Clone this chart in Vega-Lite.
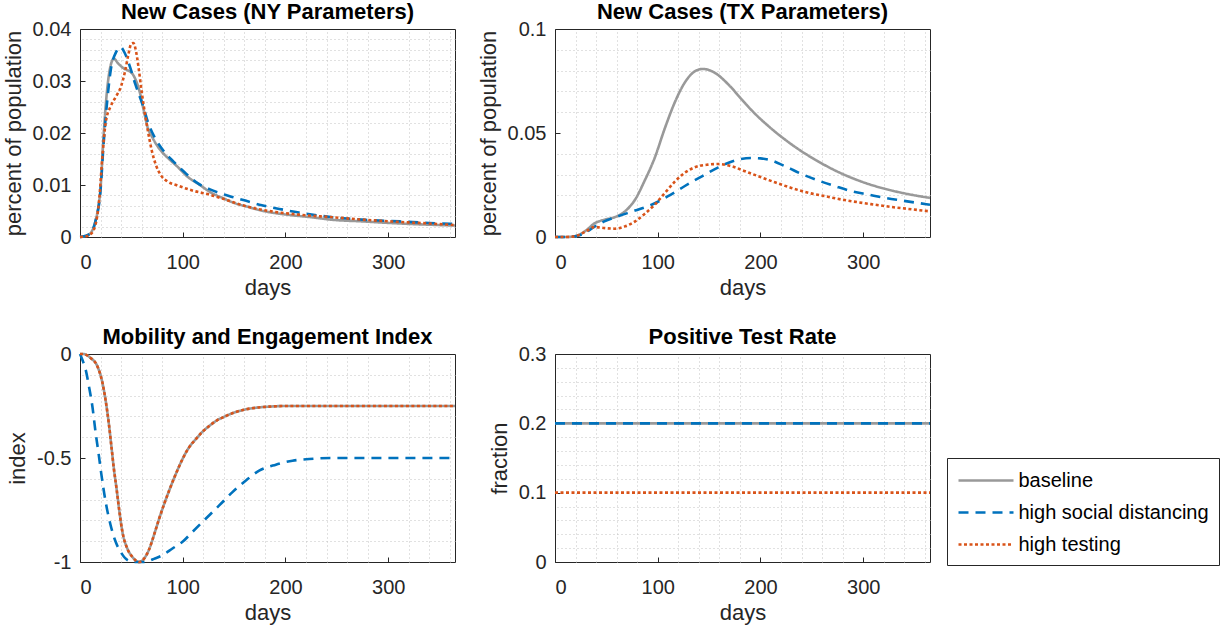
{
  "$schema": "https://vega.github.io/schema/vega-lite/v6.json",
  "padding": {"left": 1, "top": 0, "right": 2, "bottom": 2},
  "background": "#ffffff",
  "config": {
    "font": "Liberation Sans",
    "view": {"stroke": "#262626", "strokeWidth": 1},
    "axis": {
      "labelFont": "Liberation Sans", "labelFontSize": 20, "labelColor": "#262626",
      "titleFont": "Liberation Sans", "titleFontSize": 22, "titleFontWeight": "normal", "titleColor": "#262626",
      "gridColor": "#dedede", "gridOpacity": 1, "gridWidth": 1,
      "domain": false, "ticks": true, "tickColor": "#262626", "tickSize": -5, "tickWidth": 1
    },
    "axisX": {"labelPadding": 20, "titlePadding": 5},
    "axisY": {"labelPadding": 14, "titlePadding": 7},
    "title": {"font": "Liberation Sans", "fontSize": 22, "fontWeight": "bold", "color": "#000000", "baseline": "alphabetic", "offset": -5, "anchor": "middle"}
  },
  "datasets": {
    "ny": [
      {"s":"baseline","d":0,"v":0},{"s":"baseline","d":5,"v":0.0002},{"s":"baseline","d":10,"v":0.0007},{"s":"baseline","d":15,"v":0.003},{"s":"baseline","d":18,"v":0.006},{"s":"baseline","d":20,"v":0.0094},{"s":"baseline","d":23,"v":0.0196},{"s":"baseline","d":26,"v":0.0275},{"s":"baseline","d":29,"v":0.0322},{"s":"baseline","d":33,"v":0.0343},{"s":"baseline","d":37,"v":0.0334},{"s":"baseline","d":42,"v":0.0325},{"s":"baseline","d":47,"v":0.032},{"s":"baseline","d":51,"v":0.0314},{"s":"baseline","d":54,"v":0.0303},{"s":"baseline","d":58,"v":0.028},{"s":"baseline","d":62,"v":0.0244},{"s":"baseline","d":66,"v":0.021},{"s":"baseline","d":70,"v":0.0193},{"s":"baseline","d":75,"v":0.0176},{"s":"baseline","d":80,"v":0.0163},{"s":"baseline","d":85,"v":0.0153},{"s":"baseline","d":95,"v":0.0135},{"s":"baseline","d":104,"v":0.0117},{"s":"baseline","d":116,"v":0.0101},{"s":"baseline","d":127,"v":0.0086},{"s":"baseline","d":140,"v":0.0074},{"s":"baseline","d":148,"v":0.0067},{"s":"baseline","d":165,"v":0.0057},{"s":"baseline","d":181,"v":0.0049},{"s":"baseline","d":201,"v":0.0043},{"s":"baseline","d":225,"v":0.0038},{"s":"baseline","d":246,"v":0.0033},{"s":"baseline","d":275,"v":0.003},{"s":"baseline","d":301,"v":0.0027},{"s":"baseline","d":335,"v":0.0024},{"s":"baseline","d":365,"v":0.0022},
      {"s":"high social distancing","d":0,"v":0},{"s":"high social distancing","d":5,"v":0.0002},{"s":"high social distancing","d":10,"v":0.0007},{"s":"high social distancing","d":15,"v":0.003},{"s":"high social distancing","d":20,"v":0.009},{"s":"high social distancing","d":23,"v":0.018},{"s":"high social distancing","d":26.5,"v":0.0262},{"s":"high social distancing","d":30,"v":0.0322},{"s":"high social distancing","d":35,"v":0.0355},{"s":"high social distancing","d":39.5,"v":0.0365},{"s":"high social distancing","d":44,"v":0.0352},{"s":"high social distancing","d":49,"v":0.0325},{"s":"high social distancing","d":54,"v":0.0293},{"s":"high social distancing","d":61,"v":0.0254},{"s":"high social distancing","d":67,"v":0.0216},{"s":"high social distancing","d":74,"v":0.0187},{"s":"high social distancing","d":82,"v":0.0164},{"s":"high social distancing","d":91,"v":0.0145},{"s":"high social distancing","d":101,"v":0.0126},{"s":"high social distancing","d":114,"v":0.0104},{"s":"high social distancing","d":126,"v":0.0092},{"s":"high social distancing","d":145,"v":0.0079},{"s":"high social distancing","d":161,"v":0.007},{"s":"high social distancing","d":177,"v":0.0061},{"s":"high social distancing","d":194,"v":0.0054},{"s":"high social distancing","d":213,"v":0.0047},{"s":"high social distancing","d":246,"v":0.0038},{"s":"high social distancing","d":278,"v":0.0033},{"s":"high social distancing","d":311,"v":0.003},{"s":"high social distancing","d":340,"v":0.0027},{"s":"high social distancing","d":365,"v":0.0025},
      {"s":"high testing","d":0,"v":0},{"s":"high testing","d":5,"v":0.0001},{"s":"high testing","d":10,"v":0.0005},{"s":"high testing","d":15,"v":0.0023},{"s":"high testing","d":18.5,"v":0.0068},{"s":"high testing","d":22,"v":0.016},{"s":"high testing","d":25,"v":0.022},{"s":"high testing","d":30,"v":0.0252},{"s":"high testing","d":35,"v":0.027},{"s":"high testing","d":40,"v":0.029},{"s":"high testing","d":44,"v":0.032},{"s":"high testing","d":47,"v":0.035},{"s":"high testing","d":50,"v":0.0372},{"s":"high testing","d":52,"v":0.0373},{"s":"high testing","d":54,"v":0.0362},{"s":"high testing","d":57,"v":0.0326},{"s":"high testing","d":60,"v":0.028},{"s":"high testing","d":63,"v":0.024},{"s":"high testing","d":66,"v":0.0205},{"s":"high testing","d":70,"v":0.0165},{"s":"high testing","d":74,"v":0.0138},{"s":"high testing","d":79,"v":0.0118},{"s":"high testing","d":85,"v":0.0107},{"s":"high testing","d":95,"v":0.0099},{"s":"high testing","d":110,"v":0.0089},{"s":"high testing","d":127,"v":0.0081},{"s":"high testing","d":143,"v":0.0071},{"s":"high testing","d":160,"v":0.006},{"s":"high testing","d":181,"v":0.0051},{"s":"high testing","d":213,"v":0.0043},{"s":"high testing","d":246,"v":0.0038},{"s":"high testing","d":278,"v":0.0033},{"s":"high testing","d":311,"v":0.0029},{"s":"high testing","d":340,"v":0.0026},{"s":"high testing","d":365,"v":0.0023}
    ],
    "tx": [
      {"s":"baseline","d":0,"v":0},{"s":"baseline","d":10,"v":0},{"s":"baseline","d":19,"v":0.0003},{"s":"baseline","d":29,"v":0.0027},{"s":"baseline","d":39,"v":0.0067},{"s":"baseline","d":48,"v":0.0083},{"s":"baseline","d":58,"v":0.0095},{"s":"baseline","d":68,"v":0.0123},{"s":"baseline","d":78,"v":0.018},{"s":"baseline","d":87,"v":0.0268},{"s":"baseline","d":97,"v":0.038},{"s":"baseline","d":107,"v":0.0524},{"s":"baseline","d":117,"v":0.0652},{"s":"baseline","d":126,"v":0.074},{"s":"baseline","d":136,"v":0.0796},{"s":"baseline","d":144,"v":0.0808},{"s":"baseline","d":156,"v":0.0788},{"s":"baseline","d":169,"v":0.0732},{"s":"baseline","d":182,"v":0.066},{"s":"baseline","d":195,"v":0.0591},{"s":"baseline","d":208,"v":0.0532},{"s":"baseline","d":224,"v":0.0468},{"s":"baseline","d":240,"v":0.0412},{"s":"baseline","d":256,"v":0.0364},{"s":"baseline","d":273,"v":0.0319},{"s":"baseline","d":289,"v":0.0284},{"s":"baseline","d":305,"v":0.0255},{"s":"baseline","d":321,"v":0.0232},{"s":"baseline","d":338,"v":0.0212},{"s":"baseline","d":365,"v":0.0188},
      {"s":"high social distancing","d":0,"v":0},{"s":"high social distancing","d":10,"v":0},{"s":"high social distancing","d":19,"v":0.0003},{"s":"high social distancing","d":29,"v":0.0019},{"s":"high social distancing","d":39,"v":0.0051},{"s":"high social distancing","d":48,"v":0.0075},{"s":"high social distancing","d":61,"v":0.0099},{"s":"high social distancing","d":78,"v":0.0127},{"s":"high social distancing","d":94,"v":0.0155},{"s":"high social distancing","d":110,"v":0.0196},{"s":"high social distancing","d":126,"v":0.0244},{"s":"high social distancing","d":143,"v":0.0292},{"s":"high social distancing","d":159,"v":0.0335},{"s":"high social distancing","d":175,"v":0.0368},{"s":"high social distancing","d":191,"v":0.038},{"s":"high social distancing","d":200,"v":0.0378},{"s":"high social distancing","d":208,"v":0.0372},{"s":"high social distancing","d":224,"v":0.034},{"s":"high social distancing","d":240,"v":0.0303},{"s":"high social distancing","d":256,"v":0.0272},{"s":"high social distancing","d":273,"v":0.0244},{"s":"high social distancing","d":289,"v":0.022},{"s":"high social distancing","d":305,"v":0.0204},{"s":"high social distancing","d":321,"v":0.0188},{"s":"high social distancing","d":338,"v":0.0175},{"s":"high social distancing","d":365,"v":0.0155},
      {"s":"high testing","d":0,"v":0},{"s":"high testing","d":10,"v":0},{"s":"high testing","d":19,"v":0.0003},{"s":"high testing","d":29,"v":0.0024},{"s":"high testing","d":39,"v":0.0048},{"s":"high testing","d":48,"v":0.0043},{"s":"high testing","d":58,"v":0.004},{"s":"high testing","d":68,"v":0.0051},{"s":"high testing","d":78,"v":0.0075},{"s":"high testing","d":87,"v":0.011},{"s":"high testing","d":97,"v":0.0155},{"s":"high testing","d":107,"v":0.0212},{"s":"high testing","d":117,"v":0.0268},{"s":"high testing","d":126,"v":0.0308},{"s":"high testing","d":136,"v":0.0335},{"s":"high testing","d":149,"v":0.0348},{"s":"high testing","d":159,"v":0.0351},{"s":"high testing","d":172,"v":0.034},{"s":"high testing","d":185,"v":0.0316},{"s":"high testing","d":198,"v":0.0292},{"s":"high testing","d":214,"v":0.0263},{"s":"high testing","d":230,"v":0.0236},{"s":"high testing","d":247,"v":0.0212},{"s":"high testing","d":263,"v":0.0196},{"s":"high testing","d":279,"v":0.018},{"s":"high testing","d":295,"v":0.0167},{"s":"high testing","d":312,"v":0.0155},{"s":"high testing","d":328,"v":0.0144},{"s":"high testing","d":344,"v":0.0135},{"s":"high testing","d":365,"v":0.0123}
    ],
    "mob": [
      {"s":"baseline","d":0,"v":0},{"s":"baseline","d":3,"v":0},{"s":"baseline","d":10,"v":-0.018},{"s":"baseline","d":17,"v":-0.06},{"s":"baseline","d":21.7,"v":-0.135},{"s":"baseline","d":25,"v":-0.225},{"s":"baseline","d":28.2,"v":-0.34},{"s":"baseline","d":30.8,"v":-0.455},{"s":"baseline","d":33,"v":-0.553},{"s":"baseline","d":35.6,"v":-0.648},{"s":"baseline","d":37.9,"v":-0.74},{"s":"baseline","d":41.1,"v":-0.85},{"s":"baseline","d":46,"v":-0.935},{"s":"baseline","d":50.9,"v":-0.975},{"s":"baseline","d":57.5,"v":-1.0},{"s":"baseline","d":62.2,"v":-0.985},{"s":"baseline","d":67.2,"v":-0.94},{"s":"baseline","d":73,"v":-0.855},{"s":"baseline","d":77.1,"v":-0.791},{"s":"baseline","d":82,"v":-0.72},{"s":"baseline","d":86.9,"v":-0.655},{"s":"baseline","d":93,"v":-0.58},{"s":"baseline","d":99.8,"v":-0.505},{"s":"baseline","d":106,"v":-0.45},{"s":"baseline","d":112.8,"v":-0.409},{"s":"baseline","d":119,"v":-0.375},{"s":"baseline","d":125.8,"v":-0.346},{"s":"baseline","d":133,"v":-0.32},{"s":"baseline","d":142,"v":-0.298},{"s":"baseline","d":151,"v":-0.28},{"s":"baseline","d":161.5,"v":-0.266},{"s":"baseline","d":172,"v":-0.258},{"s":"baseline","d":184,"v":-0.253},{"s":"baseline","d":200,"v":-0.25},{"s":"baseline","d":250,"v":-0.25},{"s":"baseline","d":300,"v":-0.25},{"s":"baseline","d":365,"v":-0.25},
      {"s":"high social distancing","d":0,"v":0},{"s":"high social distancing","d":2.5,"v":-0.03},{"s":"high social distancing","d":5.5,"v":-0.075},{"s":"high social distancing","d":8.7,"v":-0.155},{"s":"high social distancing","d":12,"v":-0.25},{"s":"high social distancing","d":15.2,"v":-0.378},{"s":"high social distancing","d":18.4,"v":-0.49},{"s":"high social distancing","d":20.7,"v":-0.575},{"s":"high social distancing","d":25,"v":-0.712},{"s":"high social distancing","d":29.8,"v":-0.823},{"s":"high social distancing","d":34.7,"v":-0.903},{"s":"high social distancing","d":39.5,"v":-0.951},{"s":"high social distancing","d":46,"v":-0.99},{"s":"high social distancing","d":52.5,"v":-1.0},{"s":"high social distancing","d":62,"v":-1.0},{"s":"high social distancing","d":67,"v":-0.995},{"s":"high social distancing","d":72,"v":-0.985},{"s":"high social distancing","d":80.4,"v":-0.967},{"s":"high social distancing","d":90,"v":-0.935},{"s":"high social distancing","d":99.8,"v":-0.903},{"s":"high social distancing","d":109.5,"v":-0.855},{"s":"high social distancing","d":122.6,"v":-0.791},{"s":"high social distancing","d":135.5,"v":-0.728},{"s":"high social distancing","d":148.4,"v":-0.664},{"s":"high social distancing","d":161.5,"v":-0.608},{"s":"high social distancing","d":174.4,"v":-0.561},{"s":"high social distancing","d":190.6,"v":-0.532},{"s":"high social distancing","d":206.8,"v":-0.513},{"s":"high social distancing","d":223,"v":-0.505},{"s":"high social distancing","d":245,"v":-0.5},{"s":"high social distancing","d":300,"v":-0.5},{"s":"high social distancing","d":365,"v":-0.5},
      {"s":"high testing","d":0,"v":0},{"s":"high testing","d":3,"v":0},{"s":"high testing","d":10,"v":-0.018},{"s":"high testing","d":17,"v":-0.06},{"s":"high testing","d":21.7,"v":-0.135},{"s":"high testing","d":25,"v":-0.225},{"s":"high testing","d":28.2,"v":-0.34},{"s":"high testing","d":30.8,"v":-0.455},{"s":"high testing","d":33,"v":-0.553},{"s":"high testing","d":35.6,"v":-0.648},{"s":"high testing","d":37.9,"v":-0.74},{"s":"high testing","d":41.1,"v":-0.85},{"s":"high testing","d":46,"v":-0.935},{"s":"high testing","d":50.9,"v":-0.975},{"s":"high testing","d":57.5,"v":-1.0},{"s":"high testing","d":62.2,"v":-0.985},{"s":"high testing","d":67.2,"v":-0.94},{"s":"high testing","d":73,"v":-0.855},{"s":"high testing","d":77.1,"v":-0.791},{"s":"high testing","d":82,"v":-0.72},{"s":"high testing","d":86.9,"v":-0.655},{"s":"high testing","d":93,"v":-0.58},{"s":"high testing","d":99.8,"v":-0.505},{"s":"high testing","d":106,"v":-0.45},{"s":"high testing","d":112.8,"v":-0.409},{"s":"high testing","d":119,"v":-0.375},{"s":"high testing","d":125.8,"v":-0.346},{"s":"high testing","d":133,"v":-0.32},{"s":"high testing","d":142,"v":-0.298},{"s":"high testing","d":151,"v":-0.28},{"s":"high testing","d":161.5,"v":-0.266},{"s":"high testing","d":172,"v":-0.258},{"s":"high testing","d":184,"v":-0.253},{"s":"high testing","d":200,"v":-0.25},{"s":"high testing","d":250,"v":-0.25},{"s":"high testing","d":300,"v":-0.25},{"s":"high testing","d":365,"v":-0.25}
    ],
    "ptr": [
      {"s":"baseline","d":0,"v":0.2},{"s":"baseline","d":365,"v":0.2},
      {"s":"high social distancing","d":0,"v":0.2},{"s":"high social distancing","d":365,"v":0.2},
      {"s":"high testing","d":0,"v":0.1},{"s":"high testing","d":365,"v":0.1}
    ]
  },
  "columns": 2,
  "spacing": {"row": 117, "column": 100},
  "bounds": "flush",
  "resolve": {"scale": {"color": "independent", "strokeDash": "independent"}, "legend": {"color": "independent", "strokeDash": "independent"}},
  "concat": [
    {
      "width": 375, "height": 208,
      "title": "New Cases (NY Parameters)",
      "data": {"name": "ny"},
      "resolve": {"axis": {"x": "independent", "y": "independent"}},
      "layer": [
        {"mark": {"type": "line", "strokeOpacity": 0},
         "encoding": {
           "x": {"field": "d", "type": "quantitative", "scale": {"domain": [0, 365], "nice": false}, "axis": {"orient": "top", "values": [20,40,60,80,120,140,160,180,220,240,260,280,320,340,360], "grid": true, "gridDash": [1, 3], "gridColor": "#c2c2c2", "labels": false, "ticks": false, "tickSize": 0, "labelPadding": 0, "domain": false, "title": null}},
           "y": {"field": "v", "type": "quantitative", "scale": {"domain": [0, 0.04], "nice": false}, "axis": {"orient": "right", "values": [0.002,0.004,0.006,0.008,0.012,0.014,0.016,0.018,0.022,0.024,0.026,0.028,0.032,0.034,0.036,0.038], "grid": true, "gridDash": [1, 3], "gridColor": "#c2c2c2", "labels": false, "ticks": false, "tickSize": 0, "labelPadding": 0, "domain": false, "title": null}}
         }},
        {"mark": {"type": "line", "strokeWidth": 2.6, "interpolate": "monotone"},
         "encoding": {
           "x": {"field": "d", "type": "quantitative", "scale": {"domain": [0, 365], "nice": false}, "axis": {"orient": "bottom", "values": [0, 100, 200, 300], "title": "days", "labelExpr": "'' + datum.value"}},
           "y": {"field": "v", "type": "quantitative", "scale": {"domain": [0, 0.04], "nice": false}, "axis": {"orient": "left", "values": [0, 0.01, 0.02, 0.03, 0.04], "title": "percent of population", "labelExpr": "'' + datum.value"}},
           "color": {"field": "s", "type": "nominal", "scale": {"domain": ["baseline", "high social distancing", "high testing"], "range": ["#999999", "#0072BD", "#D95319"]}, "legend": null},
           "strokeDash": {"field": "s", "type": "nominal", "scale": {"domain": ["baseline", "high social distancing", "high testing"], "range": [[1, 0], [10, 7], [3, 2.5]]}, "legend": null}
         }}
      ]
    },
    {
      "width": 375, "height": 208,
      "title": "New Cases (TX Parameters)",
      "data": {"name": "tx"},
      "resolve": {"axis": {"x": "independent", "y": "independent"}},
      "layer": [
        {"mark": {"type": "line", "strokeOpacity": 0},
         "encoding": {
           "x": {"field": "d", "type": "quantitative", "scale": {"domain": [0, 365], "nice": false}, "axis": {"orient": "top", "values": [20,40,60,80,120,140,160,180,220,240,260,280,320,340,360], "grid": true, "gridDash": [1, 3], "gridColor": "#c2c2c2", "labels": false, "ticks": false, "tickSize": 0, "labelPadding": 0, "domain": false, "title": null}},
           "y": {"field": "v", "type": "quantitative", "scale": {"domain": [0, 0.1], "nice": false}, "axis": {"orient": "right", "values": [0.01,0.02,0.03,0.04,0.06,0.07,0.08,0.09], "grid": true, "gridDash": [1, 3], "gridColor": "#c2c2c2", "labels": false, "ticks": false, "tickSize": 0, "labelPadding": 0, "domain": false, "title": null}}
         }},
        {"mark": {"type": "line", "strokeWidth": 2.6, "interpolate": "monotone"},
         "encoding": {
           "x": {"field": "d", "type": "quantitative", "scale": {"domain": [0, 365], "nice": false}, "axis": {"orient": "bottom", "values": [0, 100, 200, 300], "title": "days", "labelExpr": "'' + datum.value"}},
           "y": {"field": "v", "type": "quantitative", "scale": {"domain": [0, 0.1], "nice": false}, "axis": {"orient": "left", "values": [0, 0.05, 0.1], "title": "percent of population", "labelExpr": "'' + datum.value"}},
           "color": {"field": "s", "type": "nominal", "scale": {"domain": ["baseline", "high social distancing", "high testing"], "range": ["#999999", "#0072BD", "#D95319"]}, "legend": null},
           "strokeDash": {"field": "s", "type": "nominal", "scale": {"domain": ["baseline", "high social distancing", "high testing"], "range": [[1, 0], [10, 7], [3, 2.5]]}, "legend": null}
         }}
      ]
    },
    {
      "width": 375, "height": 208,
      "title": "Mobility and Engagement Index",
      "data": {"name": "mob"},
      "resolve": {"axis": {"x": "independent", "y": "independent"}},
      "layer": [
        {"mark": {"type": "line", "strokeOpacity": 0},
         "encoding": {
           "x": {"field": "d", "type": "quantitative", "scale": {"domain": [0, 365], "nice": false}, "axis": {"orient": "top", "values": [20,40,60,80,120,140,160,180,220,240,260,280,320,340,360], "grid": true, "gridDash": [1, 3], "gridColor": "#c2c2c2", "labels": false, "ticks": false, "tickSize": 0, "labelPadding": 0, "domain": false, "title": null}},
           "y": {"field": "v", "type": "quantitative", "scale": {"domain": [-1, 0], "nice": false}, "axis": {"orient": "right", "values": [-0.9,-0.8,-0.7,-0.6,-0.4,-0.3,-0.2,-0.1], "grid": true, "gridDash": [1, 3], "gridColor": "#c2c2c2", "labels": false, "ticks": false, "tickSize": 0, "labelPadding": 0, "domain": false, "title": null}}
         }},
        {"mark": {"type": "line", "strokeWidth": 2.6, "interpolate": "monotone"},
         "encoding": {
           "x": {"field": "d", "type": "quantitative", "scale": {"domain": [0, 365], "nice": false}, "axis": {"orient": "bottom", "values": [0, 100, 200, 300], "title": "days", "labelExpr": "'' + datum.value"}},
           "y": {"field": "v", "type": "quantitative", "scale": {"domain": [-1, 0], "nice": false}, "axis": {"orient": "left", "values": [-1, -0.5, 0], "title": "index", "labelExpr": "'' + datum.value"}},
           "color": {"field": "s", "type": "nominal", "scale": {"domain": ["baseline", "high social distancing", "high testing"], "range": ["#999999", "#0072BD", "#D95319"]}, "legend": null},
           "strokeDash": {"field": "s", "type": "nominal", "scale": {"domain": ["baseline", "high social distancing", "high testing"], "range": [[1, 0], [10, 7], [3, 2.5]]}, "legend": null}
         }}
      ]
    },
    {
      "width": 375, "height": 208,
      "title": "Positive Test Rate",
      "data": {"name": "ptr"},
      "resolve": {"axis": {"x": "independent", "y": "independent"}},
      "layer": [
        {"mark": {"type": "line", "strokeOpacity": 0},
         "encoding": {
           "x": {"field": "d", "type": "quantitative", "scale": {"domain": [0, 365], "nice": false}, "axis": {"orient": "top", "values": [20,40,60,80,120,140,160,180,220,240,260,280,320,340,360], "grid": true, "gridDash": [1, 3], "gridColor": "#c2c2c2", "labels": false, "ticks": false, "tickSize": 0, "labelPadding": 0, "domain": false, "title": null}},
           "y": {"field": "v", "type": "quantitative", "scale": {"domain": [0, 0.3], "nice": false}, "axis": {"orient": "right", "values": [0.02,0.04,0.06,0.08,0.12,0.14,0.16,0.18,0.22,0.24,0.26,0.28], "grid": true, "gridDash": [1, 3], "gridColor": "#c2c2c2", "labels": false, "ticks": false, "tickSize": 0, "labelPadding": 0, "domain": false, "title": null}}
         }},
        {"mark": {"type": "line", "strokeWidth": 2.6},
         "encoding": {
           "x": {"field": "d", "type": "quantitative", "scale": {"domain": [0, 365], "nice": false}, "axis": {"orient": "bottom", "values": [0, 100, 200, 300], "title": "days", "labelExpr": "'' + datum.value"}},
           "y": {"field": "v", "type": "quantitative", "scale": {"domain": [0, 0.3], "nice": false}, "axis": {"orient": "left", "values": [0, 0.1, 0.2, 0.3], "title": "fraction", "labelExpr": "'' + datum.value"}},
           "color": {"field": "s", "type": "nominal", "scale": {"domain": ["baseline", "high social distancing", "high testing"], "range": ["#999999", "#0072BD", "#D95319"]},
             "legend": {"orient": "none", "legendX": 392, "legendY": 104, "title": null, "strokeColor": "#262626", "fillColor": "#ffffff", "padding": 10, "labelFont": "Liberation Sans", "labelFontSize": 20, "labelColor": "#000000", "labelLimit": 400, "symbolType": "M-2.5,0H2.5", "symbolSize": 484, "symbolOffset": 16.5, "symbolStrokeWidth": 2.6, "rowPadding": 9, "labelOffset": 20}},
           "strokeDash": {"field": "s", "type": "nominal", "scale": {"domain": ["baseline", "high social distancing", "high testing"], "range": [[1, 0], [10, 7], [3, 2.5]]},
             "legend": {"orient": "none", "legendX": 392, "legendY": 104, "title": null, "strokeColor": "#262626", "fillColor": "#ffffff", "padding": 10, "labelFont": "Liberation Sans", "labelFontSize": 20, "labelColor": "#000000", "labelLimit": 400, "symbolType": "M-2.5,0H2.5", "symbolSize": 484, "symbolOffset": 16.5, "symbolStrokeWidth": 2.6, "rowPadding": 9, "labelOffset": 20}}
         }}
      ]
    }
  ]
}
